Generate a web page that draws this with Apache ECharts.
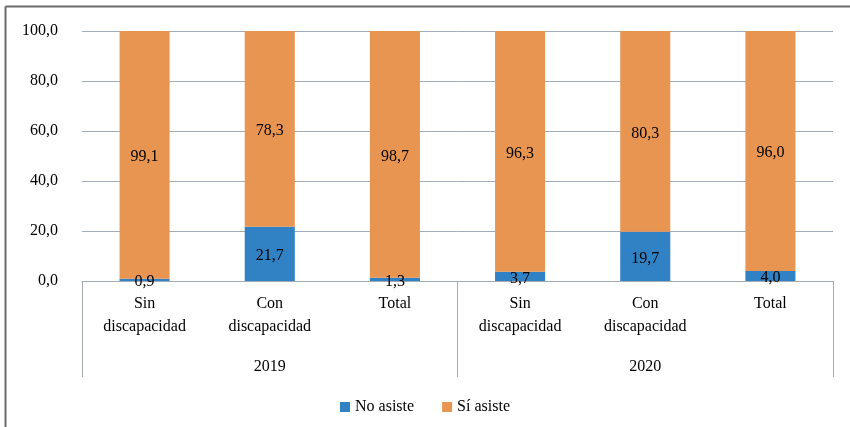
<!DOCTYPE html>
<html>
<head>
<meta charset="utf-8">
<script src="https://cdn.jsdelivr.net/npm/echarts@6/dist/echarts.min.js"></script>
<style>html,body{margin:0;padding:0;background:#fff}#c{width:850px;height:427px}</style>
</head>
<body>
<div id="c"></div>
<script>
const categories = ['Sin\ndiscapacidad', 'Con\ndiscapacidad', 'Total', 'Sin\ndiscapacidad', 'Con\ndiscapacidad', 'Total'];
const years = ['2019', '2020'];
const noAsiste = [0.9, 21.7, 1.3, 3.7, 19.7, 4.0];
const siAsiste = [99.1, 78.3, 98.7, 96.3, 80.3, 96.0];
const yTicks = [0, 20, 40, 60, 80, 100];

const FONT = 'Liberation Serif';
const fmt = v => Number(v).toFixed(1).replace('.', ',');
const chart = echarts.init(document.getElementById('c'), null, {renderer: 'canvas'});
chart.setOption({
  animation: false,
  textStyle: {fontFamily: FONT},
  graphic: [
    {type: 'line', shape: {x1: 5.5, y1: 6.5, x2: 850, y2: 6.5}, style: {stroke: '#6b6b6b', lineWidth: 2}},
    {type: 'line', shape: {x1: 5.5, y1: 6.5, x2: 5.5, y2: 427}, style: {stroke: '#6b6b6b', lineWidth: 2}}
  ],
  grid: {left: 82, right: 17, top: 31, bottom: 146},
  legend: {
    bottom: 7, left: 'center', itemWidth: 10, itemHeight: 10, itemGap: 28,
    icon: 'rect',
    textStyle: {fontFamily: FONT, fontSize: 16, color: '#000'},
    data: ['No asiste', 'Sí asiste']
  },
  xAxis: [
    {
      type: 'category', data: categories, position: 'bottom',
      axisLine: {lineStyle: {color: '#a3acb6', width: 1}},
      axisTick: {show: false},
      axisLabel: {interval: 0, margin: 11, fontFamily: FONT, fontSize: 16, lineHeight: 23, color: '#000'}
    },
    {
      type: 'category', data: years, position: 'bottom', offset: 0,
      axisLine: {show: false},
      axisTick: {show: true, length: 96, interval: 0, lineStyle: {color: '#a3acb6', width: 1}},
      axisLabel: {interval: 0, margin: 78, fontFamily: FONT, fontSize: 16, color: '#000'}
    }
  ],
  yAxis: {
    type: 'value', min: 0, max: 100, interval: 20,
    axisLine: {show: false}, axisTick: {show: false},
    splitLine: {lineStyle: {color: '#a3acb6', width: 1}},
    axisLabel: {margin: 24, fontFamily: FONT, fontSize: 16, color: '#000', formatter: v => yTicks.includes(v) ? fmt(v) : ''}
  },
  series: [
    {
      name: 'No asiste', type: 'bar', stack: 's', data: noAsiste, barWidth: '40%',
      itemStyle: {color: '#3182c4'},
      label: {show: true, position: 'inside', offset: [0, 2], color: '#000', fontFamily: FONT, fontSize: 16, formatter: p => fmt(p.value)}
    },
    {
      name: 'Sí asiste', type: 'bar', stack: 's', data: siAsiste, barWidth: '40%',
      itemStyle: {color: '#e99552'},
      label: {show: true, position: 'inside', offset: [0, 2], color: '#000', fontFamily: FONT, fontSize: 16, formatter: p => fmt(p.value)}
    }
  ]
});
</script>
</body>
</html>
